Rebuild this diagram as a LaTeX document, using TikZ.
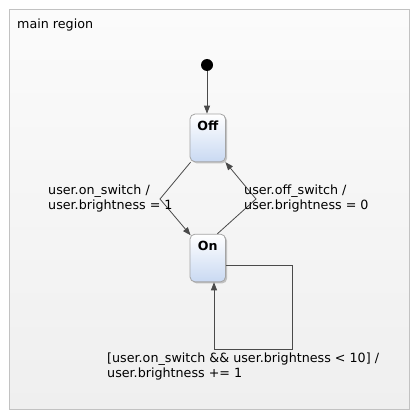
\documentclass[tikz,border=0pt]{standalone}
\usepackage{fontspec}
\setmainfont{DejaVu Sans}
\usetikzlibrary{arrows.meta,shadows}
\definecolor{regionborder}{HTML}{C2C2C2}
\definecolor{regiontop}{HTML}{FBFBFB}
\definecolor{regionbottom}{HTML}{EFEFEF}
\definecolor{stateblue}{HTML}{C9D9F2}
\definecolor{stateborder}{HTML}{A4A4A4}
\definecolor{edgegray}{HTML}{4A4A4A}
\tikzset{
  region/.style={draw=regionborder, line width=0.8pt, top color=regiontop, bottom color=regionbottom},
  statebox/.style={draw=stateborder, line width=0.8pt, rounded corners=5pt,
    minimum width=35.5pt, minimum height=47.7pt, inner sep=0pt,
    top color=white, middle color=stateblue!45, bottom color=stateblue,
    drop shadow={shadow xshift=1.6pt, shadow yshift=-1.6pt, opacity=0.35, fill=black!60}},
  statename/.style={anchor=base, yshift=-17pt, inner sep=0pt, font=\bfseries\fontsize{12.6}{15}\selectfont},
  initdot/.style={circle, fill=black, inner sep=0pt, minimum size=12pt},
  edge/.style={draw=edgegray, line width=0.8pt, -{Triangle[length=8pt,width=6pt]}},
  tlabel/.style={anchor=base west, align=left, inner sep=0pt, font=\fontsize{12.7}{15}\selectfont},
}
\begin{document}
\begin{tikzpicture}[x=1pt,y=-1pt]
\useasboundingbox (0,0) rectangle (420,420);
\path[region] (9.5,9.5) rectangle (409.5,409.5);
\node[tlabel] (regionname) at (17,28.5) {main region};

\node[initdot] (init) at (207,65) {};
\node[statebox, label={[statename]north:Off}] (off) at (207.75,137.9) {};
\node[statebox, label={[statename]north:On}] (on) at (207.75,258.0) {};

\coordinate (c1) at (160,199);
\coordinate (c2) at (256,199);
\coordinate (l1) at (292,265);
\coordinate (l2) at (292,349);
\coordinate (l3) at (214,349);

\draw[edge] (init) -- (init |- off.north);
\draw[edge] ([xshift=1pt]off.south west) -- (c1) -- ([xshift=1pt,yshift=-1.5pt]on.north west);
\draw[edge] ([xshift=-8.5pt]on.north east) -- (c2) -- ([xshift=-0.5pt]off.south east);
\draw[edge] (on.east |- l1) -- (l1) -- (l2) -- (l3) -- (l3 |- on.south);

\node[tlabel] (lab1) at (48,209.3) {user.on\_switch /\\user.brightness = 1};
\node[tlabel] (lab2) at (244,209.3) {user.off\_switch /\\user.brightness = 0};
\node[tlabel] (lab3) at (107,377.7) {[user.on\_switch \&\& user.brightness < 10] /\\user.brightness += 1};
\end{tikzpicture}
\end{document}
